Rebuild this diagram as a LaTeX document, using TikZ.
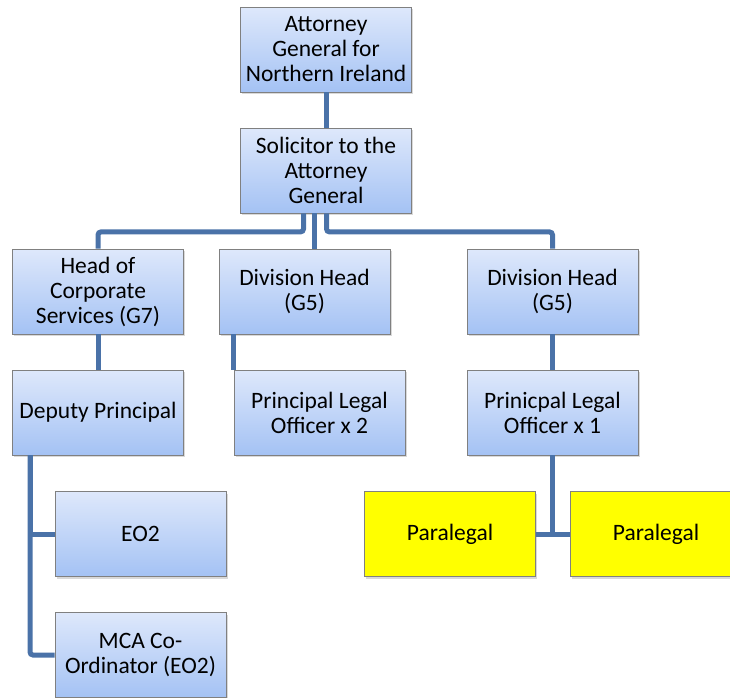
\documentclass[tikz,border=0pt]{standalone}
\usepackage{fontspec}
\setmainfont{Carlito}
\usetikzlibrary{positioning,shadows}
\definecolor{linkblue}{RGB}{74,114,168}
\definecolor{boxtop}{RGB}{222,232,251}
\definecolor{boxbot}{RGB}{164,194,244}
\definecolor{boxline}{RGB}{128,128,128}
\definecolor{paraylw}{RGB}{255,255,0}

\begin{document}
\begin{tikzpicture}[x=1pt,y=-1pt,
every node/.style={rectangle,draw=boxline,line width=.8pt,minimum width=171pt,
  minimum height=85pt,inner sep=0pt,align=center,
  font=\fontsize{23.5}{25}\selectfont,
  drop shadow={shadow xshift=1.5pt,shadow yshift=-2pt,opacity=.3}},
post/.style={top color=boxtop,bottom color=boxbot},
para/.style={fill=paraylw},
link/.style={draw=linkblue,line width=5pt}]
\useasboundingbox (0,0) rectangle (730,697);
\node[post] (A1) at (326,49.5) {Attorney\\General for\\Northern Ireland};
\node[post] (A2) at (326,170.5) {Solicitor to the\\Attorney\\General};
\node[post] (B1) at (98,291.5) {Head of\\Corporate\\Services (G7)};
\node[post] (B2) at (304.5,291.5) {Division Head\\(G5)};
\node[post] (B3) at (552.5,291.5) {Division Head\\(G5)};
\node[post] (C1) at (98,412.5) {Deputy Principal};
\node[post] (C2) at (319.5,412.5) {Principal Legal\\Officer x 2};
\node[post] (C3) at (552.5,412.5) {Prinicpal Legal\\Officer x 1};
\node[post] (D1) at (140.5,534) {EO2};
\node[post] (D2) at (140.5,655) {MCA Co-\\Ordinator (EO2)};
\node[para] (D3) at (450,534) {Paralegal};
\node[para] (D4) at (656,534) {Paralegal};
\draw[link] (A1)--(A2);
\draw[link,rounded corners=3pt] ([xshift=-22.5pt]A2.south)--++(0,18.5)-|(B1.north);
\draw[link] ([xshift=-12pt]A2.south)--([xshift=-12pt]A2.south |- B2.north);
\draw[link,rounded corners=3pt] ([xshift=.5pt]A2.south)--++(0,18.5)-|(B3.north);
\draw[link] (B1)--(C1);
\draw[link] (C2.north west |- B2.south)--(C2.north west);
\draw[link] (B3)--(C3);
\draw[link,rounded corners=3pt] ([xshift=-68pt]C1.south)|-(D2.west);
\draw[link] ([xshift=-68pt]C1.south)|-(D1.west);
\draw[link] (C3.south)--(C3.south |- D3.east);
\draw[link] (D3.east)--(D4.west);
\end{tikzpicture}
\end{document}
